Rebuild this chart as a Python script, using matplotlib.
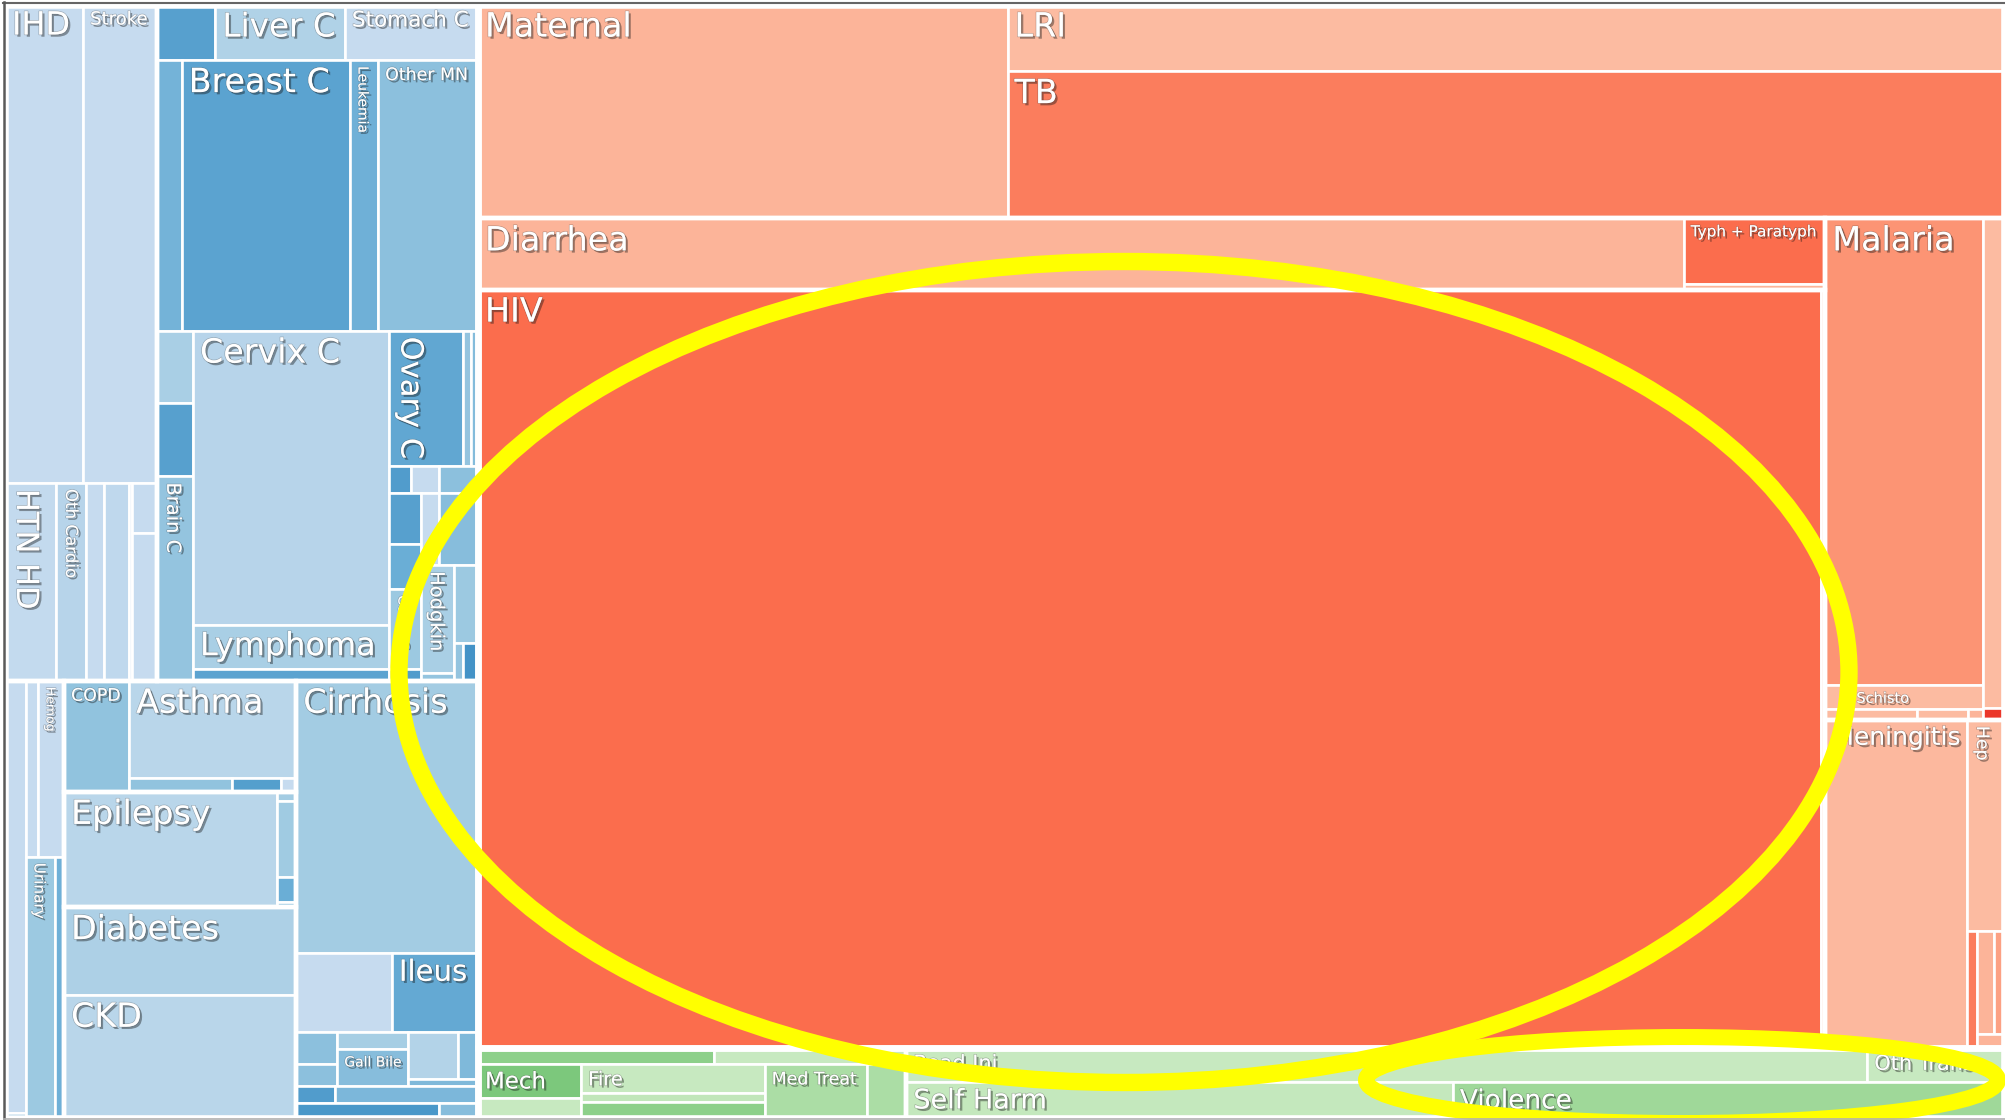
import numpy as np
import matplotlib
matplotlib.use("Agg")
import matplotlib.pyplot as plt
from matplotlib.patches import Rectangle, Ellipse
import matplotlib.patheffects as pe

# Treemap of causes. Leaf = (label, size, shade); shade is the value on the
# group's colour scale (0..1). A list starts with the split direction:
# "h" = children side by side, "v" = children stacked.

# --- non-communicable (blue) ---
cardio = ["v",
          ["h", ("IHD", 372.5, 0.25), ("Stroke", 353.4, 0.25)],
          ["h", ("HTN HD", 100.7, 0.26), ("Oth Cardio", 59.3, 0.30), ("", 35.6, 0.25),
           ("", 48.4, 0.27), ("", 6.9, 0.25), ["v", ("", 12.5, 0.25), ("", 36.9, 0.25)]]]

neoplasms = ["v",
             ["h", ("", 32.3, 0.56), ("Liver C", 71.8, 0.32), ("Stomach C", 73.8, 0.25)],
             ["h", ("", 66.2, 0.48), ("Breast C", 452.7, 0.55), ("Leukemia", 77.3, 0.49),
              ("Other MN", 269.2, 0.42)],
             ["h",
              ["v", ("", 25.8, 0.34), ("", 26.3, 0.56), ("Brain C", 73.0, 0.40)],
              ["v", ("Cervix C", 577.1, 0.30), ("Lymphoma", 85.4, 0.34), ("", 23.5, 0.55)],
              ["v",
               ["h", ("Ovary C", 98.7, 0.53), ("", 11.8, 0.40), ("", 9.0, 0.44)],
               ["h", ("", 5.9, 0.58), ("", 7.4, 0.25), ("", 10.6, 0.42)],
               ["h",
                ["v", ("", 15.9, 0.56), ("", 14.0, 0.50), ("Colon C", 24.9, 0.38), ("", 3.6, 0.58)],
                ["v",
                 ["h", ("", 12.9, 0.25), ("", 28.3, 0.43)],
                 ["h",
                  ["v", ("Hodgkin", 35.9, 0.34), ("", 2.5, 0.40)],
                  ["v", ("", 18.7, 0.38), ["h", ("", 3.3, 0.40), ("", 5.7, 0.62)]]]]]]]]

other_ncd = ["h",
             ["v", ("", 88.5, 0.25), ("", 0.9, 0.62)],
             ["v", ["h", ("", 21.1, 0.25), ("Hemog", 46.5, 0.25)],
              ["h", ("Urinary", 76.8, 0.38), ("", 23.4, 0.49)]]]

resp = ["h", ("COPD", 72.2, 0.41),
        ["v", ("Asthma", 162.8, 0.29), ["h", ("", 13.9, 0.41), ("", 6.6, 0.57), ("", 2.0, 0.25)]]]

neuro = ["h", ("Epilepsy", 245.0, 0.29),
         ["v", ("", 1.8, 0.36), ("", 14.3, 0.37), ("", 4.7, 0.50), ("", 1.0, 0.40)]]

diab_ckd = ["v", ("Diabetes", 203.0, 0.33), ("CKD", 284.2, 0.29)]

digestive = ["v", ("Cirrhosis", 492.8, 0.36),
             ["h", ("", 75.9, 0.25), ("Ileus", 68.4, 0.52)],
             ["h", ["v", ("", 13.1, 0.42), ("", 8.8, 0.42)],
              ["v", ("", 12.1, 0.35), ("Gall Bile", 25.9, 0.43)],
              ["v", ["h", ("", 23.0, 0.31), ("", 9.6, 0.45)], ("", 4.5, 0.45)]],
             ["h", ("", 6.5, 0.58), ("", 24.3, 0.46)],
             ["h", ("", 20.7, 0.60), ("", 5.7, 0.43)]]

# --- communicable, maternal, neonatal (red) ---
maternal_lri_tb = ["h", ("Maternal", 1129.4, 0.27), ["v", ("LRI", 662.0, 0.25), ("TB", 1463.4, 0.44)]]
enteric = ["h", ("Diarrhea", 855.2, 0.27), ["v", ("Typh + Paratyph", 92.7, 0.49), ("", 7.8, 0.27)]]
hiv = ["h", ("HIV", 10158.9, 0.49), ("", 30.3, 0.27)]
ntd_malaria = ["h",
               ["v", ("Malaria", 735.5, 0.37), ("Schisto", 37.9, 0.25),
                ["h", ("", 10.1, 0.25), ("", 5.6, 0.25), ("", 1.65, 0.27)]],
               ["v", ("", 100.1, 0.25), ("", 2.5, 0.64)]]
men_hep = ["h", ("Meningitis", 463.4, 0.26),
           ["v", ("Hep", 77.9, 0.25),
            ["h", ("", 12.3, 0.44), ["v", ["h", ("", 16.5, 0.27), ("", 10.8, 0.33)], ("", 3.7, 0.27)]]]]

# --- injuries (green) ---
inj_other = ["v", ["h", ("", 38.9, 0.43), ("", 31.7, 0.25)],
             ["h", ["v", ("Mech", 34.5, 0.48), ("", 20.1, 0.25)],
              ["v", ("Fire", 52.3, 0.25), ("", 16.5, 0.27), ("", 28.4, 0.43)],
              ("Med Treat", 54.1, 0.34), ("", 20.9, 0.34)]]
transport_intent = ["v", ["h", ("Road Inj", 331.2, 0.25), ("Oth Trans", 47.1, 0.25)],
                    ["h", ("Self Harm", 191.1, 0.26), ("Violence", 192.7, 0.38)]]

ncd = ["v", ["h", cardio, neoplasms],
       ["h", other_ncd, ["v", resp, neuro, diab_ckd], digestive]]
cmnn = ["v", maternal_lri_tb, ["h", ["v", enteric, hiv], ["v", ntd_malaria, men_hep]]]
injuries = ["h", inj_other, transport_intent]
root = ["h", ncd, ["v", cmnn, injuries]]

palette = {id(ncd): "Blues", id(cmnn): "Reds", id(injuries): "Greens"}
level1 = [ncd, cmnn, injuries]
level2 = [cardio, neoplasms, other_ncd, resp, neuro, diab_ckd, digestive,
          maternal_lri_tb, enteric, hiv, ntd_malaria, men_hep, inj_other, transport_intent]

label_pt = {"IHD": 23, "Stroke": 13, "Liver C": 23.5, "Stomach C": 15.5, "Breast C": 24,
            "Leukemia": 10, "Other MN": 12.5, "Cervix C": 24, "Ovary C": 22, "Brain C": 14,
            "Lymphoma": 23, "Hodgkin": 14, "Colon C": 10, "HTN HD": 22, "Oth Cardio": 12,
            "Hemog": 9, "Urinary": 11, "COPD": 12.5, "Asthma": 24, "Epilepsy": 24,
            "Diabetes": 24, "CKD": 24, "Cirrhosis": 24, "Ileus": 21, "Gall Bile": 10,
            "Maternal": 24, "LRI": 24, "TB": 24, "Diarrhea": 24, "Typh + Paratyph": 11,
            "HIV": 24, "Malaria": 24, "Schisto": 10.5, "Meningitis": 18, "Hep": 12.5,
            "Mech": 16.5, "Fire": 14, "Med Treat": 12.5, "Road Inj": 15, "Oth Trans": 15,
            "Self Harm": 19.5, "Violence": 19}
vertical = {"Leukemia", "Ovary C", "Brain C", "Hodgkin", "Colon C", "HTN HD",
            "Oth Cardio", "Hemog", "Urinary", "Hep"}
label_dx = {"Schisto": 24}


def total(node):
    if isinstance(node, tuple):
        return node[1]
    return sum(total(c) for c in node[1:])


def layout(node, x0, y0, x1, y1, cmap, leaves, boxes):
    cmap = palette.get(id(node), cmap)
    if isinstance(node, tuple):
        leaves.append((node, x0, y0, x1, y1, cmap))
        return
    boxes[id(node)] = (x0, y0, x1, y1)
    kids = node[1:]
    cuts = np.concatenate([[0], np.cumsum([total(k) for k in kids])])
    cuts = cuts / cuts[-1]
    for k, a, b in zip(kids, cuts[:-1], cuts[1:]):
        if node[0] == "h":
            layout(k, x0 + a * (x1 - x0), y0, x0 + b * (x1 - x0), y1, cmap, leaves, boxes)
        else:
            layout(k, x0, y0 + a * (y1 - y0), x1, y0 + b * (y1 - y0), cmap, leaves, boxes)


W, H = 2005, 1120
fig = plt.figure(figsize=(W / 100, H / 100), dpi=100)
fig.patch.set_facecolor("white")
ax = fig.add_axes([0, 0, 1, 1])
ax.set_xlim(0, W)
ax.set_ylim(H, 0)
ax.axis("off")

leaves, boxes = [], {}
layout(root, 5, 4.5, 2004, 1117.5, None, leaves, boxes)

shadow = [pe.SimplePatchShadow(offset=(1.6, -1.6), shadow_rgbFace="#111111", alpha=0.4),
          pe.Stroke(linewidth=1.0, foreground=(0.25, 0.25, 0.25, 0.3)),
          pe.Normal()]
for (label, size, shade), x0, y0, x1, y1, cmap in leaves:
    ax.add_patch(Rectangle((x0, y0), x1 - x0, y1 - y0, facecolor=plt.get_cmap(cmap)(shade),
                           edgecolor="white", linewidth=1.9, zorder=1))
    if label:
        dx = label_dx.get(label, 0)
        if label in vertical:
            ax.text(x0 + 6 + dx, y0 + 6, label, rotation=-90, ha="left", va="top",
                    fontsize=label_pt[label], color="white", family="DejaVu Sans",
                    path_effects=shadow, zorder=3)
        else:
            ax.text(x0 + 7 + dx, y0 + 6, label, ha="left", va="top",
                    fontsize=label_pt[label], color="white", family="DejaVu Sans",
                    path_effects=shadow, zorder=3)

for group, lw in [(level2, 3.2), (level1, 4.7)]:
    for node in group:
        x0, y0, x1, y1 = boxes[id(node)]
        ax.add_patch(Rectangle((x0, y0), x1 - x0, y1 - y0, fill=False,
                               edgecolor="white", linewidth=lw, zorder=2))

# hand-drawn highlight rings
ax.add_patch(Ellipse((1124, 672), 1450, 821, fill=False, edgecolor="#FFFF00",
                     linewidth=12.5, zorder=4))
ax.add_patch(Ellipse((1682, 1080), 632, 86, fill=False, edgecolor="#FFFF00",
                     linewidth=11.5, zorder=4))

# page frame
ax.plot([3, W], [2.5, 2.5], color="#666666", linewidth=1.5, zorder=5)
ax.plot([4, 4], [2, H], color="#5a5a5a", linewidth=1.8, zorder=5)
ax.plot([4, W], [1118.5, 1118.5], color="#b0b0b0", linewidth=1.2, zorder=5)

fig.savefig("out.png", dpi=100, facecolor="white")
